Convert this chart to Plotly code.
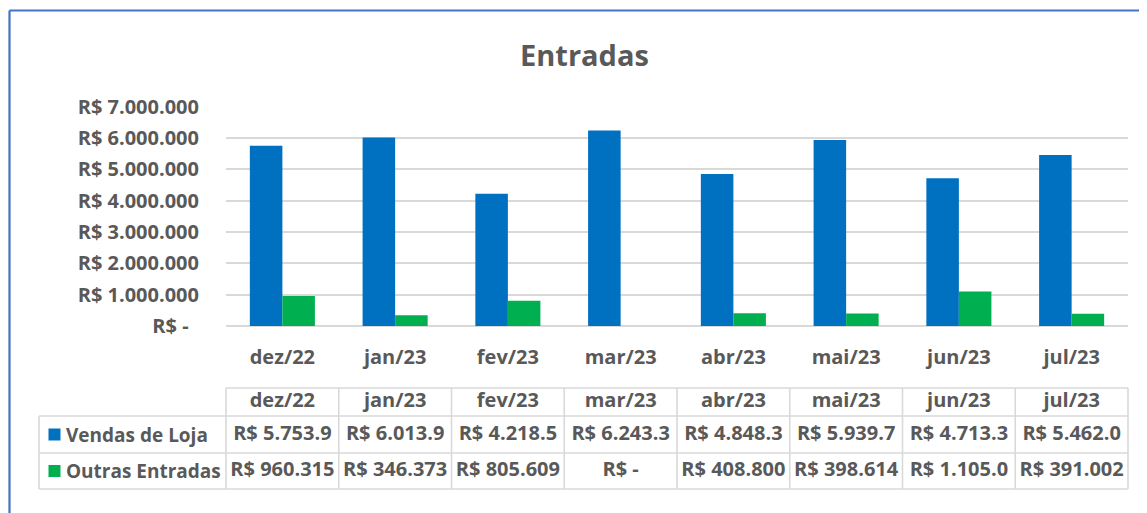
import plotly.graph_objects as go

# ---------------- data ----------------
categories = ["dez/22", "jan/23", "fev/23", "mar/23", "abr/23", "mai/23", "jun/23", "jul/23"]
series_names = ["Vendas de Loja", "Outras Entradas"]
vendas_loja = [5753900, 6013900, 4218500, 6243300, 4848300, 5939700, 4713300, 5462000]
outras_entradas = [960315, 346373, 805609, 0, 408800, 398614, 1105000, 391002]
y_tick_values = [0, 1000000, 2000000, 3000000, 4000000, 5000000, 6000000, 7000000]
series_colors = ["#0070C0", "#00B050"]


def brl(v, width=10):
    """Excel-like accounting text, truncated to the cell width as in the sheet."""
    if v == 0:
        return "R$ -"
    s = "R$ " + f"{v:,.0f}".replace(",", ".")
    return s[:width]


def brl_tick(v):
    if v == 0:
        return "R$ -\u00a0\u00a0"
    return "R$ " + f"{v:,.0f}".replace(",", ".")


# ---------------- layout constants (screen pixels, page body margin = 8) ----------------
W, H = 1147, 513
OFF = 8
PLOT_L, PLOT_R = 226 - OFF, 1128 - OFF
PLOT_T, PLOT_B = 106.7 - OFF, 326 - OFF
NCOL = len(categories)
COL = (PLOT_R - PLOT_L) / NCOL
LABEL_L = 39 - OFF
TAB_T, TAB_ROW1, TAB_ROW2, TAB_B = 388 - OFF, 416 - OFF, 453 - OFF, 489 - OFF
PAD = 4
TXT = "#595959"
GRID = "#D9D9D9"
FONT = "Open Sans"
FRAME = "#4472C4"

fig = go.Figure()

# bars
for name, vals, col in zip(series_names, [vendas_loja, outras_entradas], series_colors):
    fig.add_trace(go.Bar(x=categories, y=vals, name=name, marker_color=col,
                         marker_line_width=0, showlegend=False,
                         xaxis="x", yaxis="y"))

# ---------------- data table (on its own axes) ----------------
row_centers = [(TAB_T + TAB_ROW1) / 2, (TAB_ROW1 + TAB_ROW2) / 2, (TAB_ROW2 + TAB_B) / 2]
col_idx = list(range(NCOL))
tfont = dict(family=FONT, size=20, color=TXT, weight="bold")
lfont = dict(family=FONT, size=19, color=TXT, weight="bold")

fig.add_trace(go.Scatter(x=col_idx, y=[row_centers[0]] * NCOL, text=categories,
                         mode="text", textfont=tfont, textposition="middle center",
                         showlegend=False, hoverinfo="skip", xaxis="x2", yaxis="y2"))
for r, vals in enumerate([vendas_loja, outras_entradas], start=1):
    fig.add_trace(go.Scatter(x=col_idx, y=[row_centers[r]] * NCOL,
                             text=[brl(v) for v in vals],
                             mode="text", textfont=tfont, textposition="middle center",
                             showlegend=False, hoverinfo="skip", xaxis="x2", yaxis="y2"))

x_label_left = -0.5 - (PLOT_L - LABEL_L) / COL
x_marker = x_label_left + 15.5 / COL
x_text = x_label_left + 25 / COL

for r, (name, col) in enumerate(zip(series_names, series_colors), start=1):
    fig.add_trace(go.Scatter(x=[x_marker], y=[row_centers[r]], mode="markers",
                             marker=dict(symbol="square", size=12, color=col),
                             showlegend=False, hoverinfo="skip", xaxis="x2", yaxis="y2"))
    fig.add_annotation(x=x_text, y=row_centers[r], xref="x2", yref="y2", text=name,
                       showarrow=False, xanchor="left", yanchor="middle", font=lfont)

shapes = []
lw = 1.6
# horizontal lines
shapes.append(dict(type="line", xref="x2", yref="y2", x0=-0.5, x1=NCOL - 0.5,
                   y0=TAB_T, y1=TAB_T, line=dict(color=GRID, width=lw)))
for yy in (TAB_ROW1, TAB_ROW2, TAB_B):
    shapes.append(dict(type="line", xref="x2", yref="y2", x0=x_label_left, x1=NCOL - 0.5,
                       y0=yy, y1=yy, line=dict(color=GRID, width=lw)))
# vertical lines
shapes.append(dict(type="line", xref="x2", yref="y2", x0=x_label_left, x1=x_label_left,
                   y0=TAB_ROW1, y1=TAB_B, line=dict(color=GRID, width=lw)))
for i in range(NCOL + 1):
    xx = i - 0.5
    shapes.append(dict(type="line", xref="x2", yref="y2", x0=xx, x1=xx,
                       y0=TAB_T, y1=TAB_B, line=dict(color=GRID, width=lw)))
# chart frame (only top and left edges are visible in the crop)
fx = (9.5 - OFF) / W
fy = 1 - (10.5 - OFF) / H
shapes.append(dict(type="line", xref="paper", yref="paper", x0=fx, x1=1.0,
                   y0=fy, y1=fy, line=dict(color=FRAME, width=2.2)))
shapes.append(dict(type="line", xref="paper", yref="paper", x0=fx, x1=fx,
                   y0=0.0, y1=fy, line=dict(color=FRAME, width=2.2)))

fig.update_layout(
    width=W, height=H, autosize=False,
    margin=dict(l=0, r=0, t=0, b=0, pad=0, autoexpand=False),
    paper_bgcolor="white", plot_bgcolor="white",
    bargap=0.423, bargroupgap=0, barmode="group",
    showlegend=False,
    shapes=shapes,
    xaxis=dict(domain=[PLOT_L / W, PLOT_R / W], type="category", automargin=False,
               showgrid=False, showline=False, zeroline=False, ticks="",
               tickfont=dict(family=FONT, size=20, color=TXT, weight="bold"),
               ticklabelstandoff=17, fixedrange=True),
    yaxis=dict(domain=[1 - PLOT_B / H, 1 - PLOT_T / H], range=[0, 7000000], automargin=False,
               tickvals=y_tick_values, ticktext=[brl_tick(v) for v in y_tick_values],
               showgrid=True, gridcolor=GRID, gridwidth=1.6,
               zeroline=True, zerolinecolor=GRID, zerolinewidth=1.6,
               showline=False, ticks="",
               tickfont=dict(family=FONT, size=20, color=TXT, weight="bold"),
               ticklabelstandoff=26, fixedrange=True),
    xaxis2=dict(domain=[(LABEL_L - PAD) / W, (PLOT_R + PAD) / W],
                range=[x_label_left - PAD / COL, NCOL - 0.5 + PAD / COL], automargin=False,
                anchor="y2", visible=False, fixedrange=True),
    yaxis2=dict(domain=[1 - (TAB_B + PAD) / H, 1 - (TAB_T - PAD) / H],
                range=[TAB_B + PAD, TAB_T - PAD], automargin=False,
                anchor="x2", visible=False, fixedrange=True),
)

fig.add_annotation(x=(584 - OFF) / W, y=1 - (54 - OFF) / H, xref="paper", yref="paper",
                   text="Entradas", showarrow=False, xanchor="center", yanchor="middle",
                   font=dict(family=FONT, size=29, color=TXT, weight="bold"))

fig.write_html("out.html")
